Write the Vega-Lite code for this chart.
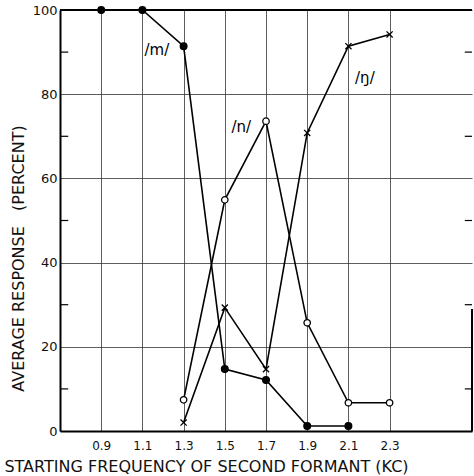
{
  "$schema": "https://vega.github.io/schema/vega-lite/v6.json",
  "autosize": "none",
  "width": 412,
  "height": 421,
  "padding": {"left": 60, "top": 10, "right": 2, "bottom": 45},
  "background": "white",
  "config": {
    "view": {"stroke": null},
    "font": "DejaVu Sans",
    "axis": {"labelFont": "DejaVu Sans", "titleFont": "DejaVu Sans", "labelColor": "#111", "titleColor": "#111", "titleFontWeight": "normal"}
  },
  "datasets": {
    "series": [
      {"series": "m", "freq": 0.9, "response": 100},
      {"series": "m", "freq": 1.1, "response": 100},
      {"series": "m", "freq": 1.3, "response": 91.4},
      {"series": "m", "freq": 1.5, "response": 14.7},
      {"series": "m", "freq": 1.7, "response": 12.1},
      {"series": "m", "freq": 1.9, "response": 1.2},
      {"series": "m", "freq": 2.1, "response": 1.2},
      {"series": "n", "freq": 1.3, "response": 7.4},
      {"series": "n", "freq": 1.5, "response": 54.9},
      {"series": "n", "freq": 1.7, "response": 73.6},
      {"series": "n", "freq": 1.9, "response": 25.7},
      {"series": "n", "freq": 2.1, "response": 6.7},
      {"series": "n", "freq": 2.3, "response": 6.7},
      {"series": "ng", "freq": 1.3, "response": 2.0},
      {"series": "ng", "freq": 1.5, "response": 29.3},
      {"series": "ng", "freq": 1.7, "response": 14.7},
      {"series": "ng", "freq": 1.9, "response": 70.8},
      {"series": "ng", "freq": 2.1, "response": 91.4},
      {"series": "ng", "freq": 2.3, "response": 94.2}
    ],
    "labels": [
      {"label": "/m/", "freq": 1.17, "response": 90.5},
      {"label": "/n/", "freq": 1.58, "response": 72.2},
      {"label": "/ŋ/", "freq": 2.18, "response": 83.8}
    ],
    "minor": [
      {"response": 10}, {"response": 30}, {"response": 50}, {"response": 70}, {"response": 90}
    ]
  },
  "layer": [
    {
      "data": {"name": "series"},
      "mark": {"type": "line", "color": "black", "strokeWidth": 1.6},
      "encoding": {
        "x": {
          "field": "freq", "type": "quantitative",
          "scale": {"domain": [0.7, 2.7], "nice": false, "zero": false},
          "axis": {
            "values": [0.9, 1.1, 1.3, 1.5, 1.7, 1.9, 2.1, 2.3],
            "format": ".1f",
            "grid": true, "gridColor": "#333", "gridWidth": 0.8, "gridOpacity": 1,
            "ticks": false, "labelPadding": 9, "labelFontSize": 12,
            "domain": true, "domainColor": "black", "domainWidth": 2,
            "title": "STARTING FREQUENCY OF SECOND FORMANT (KC)",
            "titleFontSize": 16, "titleX": 146, "titleY": 35, "titleAnchor": "middle", "titleAlign": "center", "titleBaseline": "middle"
          }
        },
        "y": {
          "field": "response", "type": "quantitative",
          "scale": {"domain": [0, 100], "nice": false},
          "axis": {
            "values": [0, 20, 40, 60, 80, 100],
            "grid": true, "gridColor": "#333", "gridWidth": 0.8, "gridOpacity": 1,
            "ticks": false, "labelPadding": 3, "labelFontSize": 13,
            "domain": true, "domainColor": "black", "domainWidth": 2,
            "title": "AVERAGE RESPONSE \u00a0\u00a0(PERCENT)",
            "titleFontSize": 16, "titleX": -42, "titleY": 248, "titleAngle": -90, "titleAlign": "center", "titleBaseline": "middle"
          }
        },
        "detail": {"field": "series"}
      }
    },
    {
      "data": {"name": "series"},
      "mark": {"type": "point", "filled": true, "stroke": "black", "strokeWidth": 1.3, "opacity": 1},
      "encoding": {
        "x": {"field": "freq", "type": "quantitative"},
        "y": {"field": "response", "type": "quantitative"},
        "shape": {"field": "series", "type": "nominal", "legend": null,
          "scale": {"domain": ["m", "n", "ng"], "range": ["circle", "circle", "M-1,-1L1,1M-1,1L1,-1"]}},
        "fill": {"field": "series", "type": "nominal", "legend": null,
          "scale": {"domain": ["m", "n", "ng"], "range": ["black", "white", "black"]}},
        "size": {"field": "series", "type": "nominal", "legend": null,
          "scale": {"domain": ["m", "n", "ng"], "range": [45, 38, 40]}}
      }
    },
    {
      "data": {"values": [{"response": 100}]},
      "mark": {"type": "rule", "color": "black", "strokeWidth": 2},
      "encoding": {
        "y": {"field": "response", "type": "quantitative"},
        "x": {"datum": 0.7, "type": "quantitative"},
        "x2": {"datum": 2.7}
      }
    },
    {
      "data": {"values": [{"from": 0, "to": 29}]},
      "mark": {"type": "rule", "color": "black", "strokeWidth": 2},
      "encoding": {
        "x": {"datum": 2.7, "type": "quantitative"},
        "y": {"field": "from", "type": "quantitative"},
        "y2": {"field": "to"}
      }
    },
    {
      "data": {"name": "minor"},
      "mark": {"type": "rule", "color": "black", "strokeWidth": 1.2},
      "encoding": {
        "y": {"field": "response", "type": "quantitative"},
        "x": {"datum": 0.7, "type": "quantitative"},
        "x2": {"datum": 0.74}
      }
    },
    {
      "data": {"name": "minor"},
      "mark": {"type": "rule", "color": "black", "strokeWidth": 1.2},
      "encoding": {
        "y": {"field": "response", "type": "quantitative"},
        "x": {"datum": 2.665, "type": "quantitative"},
        "x2": {"datum": 2.7}
      }
    },
    {
      "data": {"name": "labels"},
      "mark": {"type": "text", "fontSize": 15, "color": "black", "align": "center", "baseline": "middle", "font": "DejaVu Sans"},
      "encoding": {
        "x": {"field": "freq", "type": "quantitative"},
        "y": {"field": "response", "type": "quantitative"},
        "text": {"field": "label"}
      }
    }
  ]
}
